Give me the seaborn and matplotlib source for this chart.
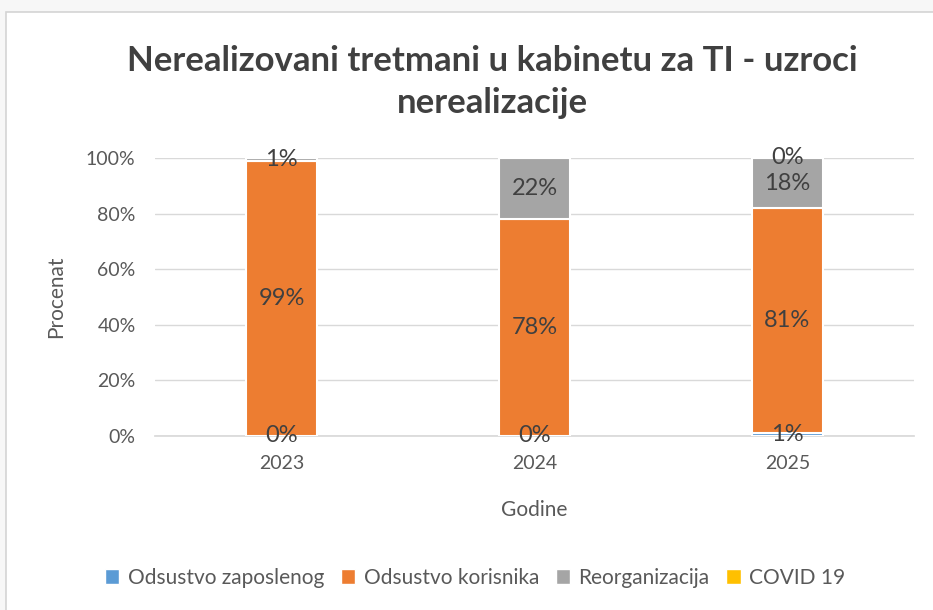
import matplotlib
matplotlib.use("Agg")
import matplotlib.pyplot as plt
import seaborn as sns
import pandas as pd
import numpy as np
from matplotlib.patches import Rectangle, Patch

years = ["2023", "2024", "2025"]
series = ["Odsustvo zaposlenog", "Odsustvo korisnika", "Reorganizacija", "COVID 19"]
zaposlenog = [0, 0, 1]
korisnika = [99, 78, 81]
reorganizacija = [1, 22, 18]
covid = [0, 0, 0]
# which labels Excel actually shows (covid only visible for 2025)
show_label = {
    "Odsustvo zaposlenog": [True, True, True],
    "Odsustvo korisnika": [True, True, True],
    "Reorganizacija": [True, True, True],
    "COVID 19": [False, False, True],
}

colors = {
    "Odsustvo zaposlenog": "#5b9bd5",
    "Odsustvo korisnika": "#ed7d31",
    "Reorganizacija": "#a5a5a5",
    "COVID 19": "#ffc000",
}

sns.set_theme(style="white")
plt.rcParams["font.family"] = ["Lato", "DejaVu Sans"]
text_col = "#595959"

df = pd.DataFrame({
    "Godina": years,
    "Odsustvo zaposlenog": zaposlenog,
    "Odsustvo korisnika": korisnika,
    "Reorganizacija": reorganizacija,
    "COVID 19": covid,
})

fig = plt.figure(figsize=(9.33, 6.10), dpi=100, facecolor="#f7f7f7")
fig.patches.append(Rectangle((6 / 933, -0.01), 1, 1 - 12 / 610 + 0.01, transform=fig.transFigure,
                             facecolor="white", edgecolor="#d4d4d4", linewidth=1.2, zorder=-5))
ax = fig.add_axes([155 / 933, 1 - 436 / 610, 759 / 933, 278 / 610])
ax.set_zorder(2)
ax.set_facecolor("none")

bottom = np.zeros(len(years))
for name in series:
    vals = df[name].to_numpy(dtype=float)
    sns.barplot(data=df, x="Godina", y=name, bottom=bottom, color=colors[name],
                saturation=1, width=0.28, edgecolor="white", linewidth=1.5, ax=ax, zorder=3)
    for i, v in enumerate(vals):
        if show_label[name][i]:
            ax.text(i, bottom[i] + v / 2, f"{v:.0f}%", ha="center", va="center",
                    fontsize=17, color="#404040", zorder=5)
    bottom = bottom + vals

ax.set_ylim(0, 100)
ax.set_xlim(-0.5, 2.5)
ax.set_yticks(range(0, 101, 20))
ax.set_yticklabels([f"{t}%" for t in range(0, 101, 20)], fontsize=14, color=text_col)
ax.tick_params(axis="x", labelsize=14, labelcolor=text_col, pad=8)
ax.tick_params(axis="y", pad=8)
ax.grid(axis="y", color="#d9d9d9", linewidth=1, zorder=0)
for s in ["top", "right", "left"]:
    ax.spines[s].set_visible(False)
ax.spines["bottom"].set_color("#d9d9d9")
ax.set_xlabel("Godine", fontsize=15, color=text_col, labelpad=20)
ax.set_ylabel("Procenat", fontsize=15, color=text_col, labelpad=14)

fig.text(492 / 933, 1 - 82 / 610, "Nerealizovani tretmani u kabinetu za TI - uzroci\nnerealizacije",
         ha="center", va="center", fontsize=25, fontweight="bold", color="#404040",
         linespacing=1.35)

handles = [Patch(facecolor=colors[n], label=n) for n in series]
fig.legend(handles=handles, loc="center", bbox_to_anchor=(475 / 933, 1 - 578 / 610),
           ncol=4, frameon=False, fontsize=15, handlelength=0.7, handleheight=0.7,
           handletextpad=0.4, columnspacing=0.8, labelcolor=text_col)

fig.savefig("out.png", dpi=100, facecolor=fig.get_facecolor())
